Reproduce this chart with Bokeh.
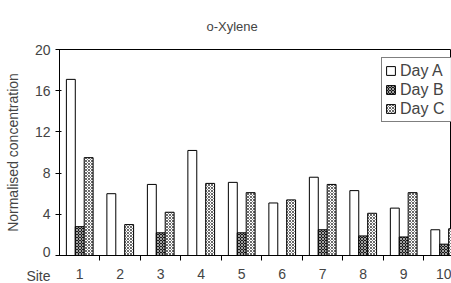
from bokeh.plotting import figure
from bokeh.models import FixedTicker, Legend, LegendItem, ColumnDataSource
from bokeh.transform import dodge
from bokeh.embed import file_html
from bokeh.resources import INLINE

sites = ["1", "2", "3", "4", "5", "6", "7", "8", "9", "10"]
day_a = [17.1, 6.0, 6.9, 10.2, 7.1, 5.1, 7.6, 6.3, 4.6, 2.5]
day_b = [2.8, 0.0, 2.2, 0.0, 2.2, 0.0, 2.5, 1.9, 1.8, 1.1]
day_c = [9.5, 3.0, 4.2, 7.0, 6.1, 5.4, 6.9, 4.1, 6.1, 2.6]
y_ticks = [0, 4, 8, 12, 16, 20]
x_title = "Site"

FONT = "Liberation Sans"
xs = list(range(1, len(sites) + 1))

p = figure(width=451, height=283, output_backend="svg", toolbar_location=None,
           x_range=(0.5, 10.18), y_range=(0, 20),
           min_border_left=59, min_border_right=0, min_border_top=47, min_border_bottom=28,
           title="o-Xylene")
p.title.text_font = FONT
p.title.text_font_size = "13px"
p.title.text_font_style = "normal"
p.title.align = "left"
p.title.offset = 147
p.title.standoff = 32
p.xgrid.visible = False
p.ygrid.visible = False
p.outline_line_color = "black"
p.outline_line_width = 1

w = 0.22
src = ColumnDataSource(dict(x=xs, a=day_a, b=day_b, c=day_c))
ra = p.vbar(x=dodge("x", -w, range=p.x_range), top="a", width=w, source=src,
            fill_color="white", line_color="black", line_width=1)
rb = p.vbar(x=dodge("x", 0, range=p.x_range), top="b", width=w, source=src, fill_color="#1a1a1a",
            hatch_pattern="x", hatch_color="white", hatch_scale=3, hatch_weight=0.6,
            line_color="black", line_width=1)
rc = p.vbar(x=dodge("x", w, range=p.x_range), top="c", width=w, source=src, fill_color="white",
            hatch_pattern="x", hatch_color="#444444", hatch_scale=3, hatch_weight=0.8,
            line_color="black", line_width=1)

p.yaxis.ticker = FixedTicker(ticks=y_ticks)
# the "Site" caption sits under the 0 label, right-aligned with it
p.yaxis.major_label_overrides = {0: "\u00a0\n0\n" + x_title}
p.yaxis.major_label_text_line_height = 1.5
p.yaxis.axis_label = "Normalised concentration"
p.yaxis.axis_label_text_font = FONT
p.yaxis.axis_label_text_font_size = "14px"
p.yaxis.axis_label_text_font_style = "normal"
p.yaxis.major_label_text_font = FONT
p.yaxis.major_label_text_font_size = "14px"
p.yaxis.major_tick_in = 2
p.yaxis.major_tick_out = 4
p.yaxis.minor_tick_line_color = None
p.yaxis.axis_label_standoff = 2

p.xaxis.ticker = FixedTicker(ticks=xs, minor_ticks=[x + 0.5 for x in xs])
p.xaxis.major_label_overrides = {x: s for x, s in zip(xs, sites)}
p.xaxis.major_tick_line_color = None
p.xaxis.major_tick_in = 0
p.xaxis.major_tick_out = 0
p.xaxis.minor_tick_in = 0
p.xaxis.minor_tick_out = 5
p.xaxis.major_label_text_font = FONT
p.xaxis.major_label_text_font_size = "14px"
p.xaxis.major_label_standoff = 8

legend = Legend(items=[LegendItem(label="Day A", renderers=[ra]),
                       LegendItem(label="Day B", renderers=[rb]),
                       LegendItem(label="Day C", renderers=[rc])],
                location=(322, 133), label_text_font=FONT, label_text_font_size="16px",
                glyph_width=11, glyph_height=11, spacing=0, padding=3, margin=0,
                label_standoff=4, label_width=48, border_line_color="black", border_line_width=1,
                label_height=19)
p.add_layout(legend)

open("out.html", "w").write(file_html(p, INLINE))
